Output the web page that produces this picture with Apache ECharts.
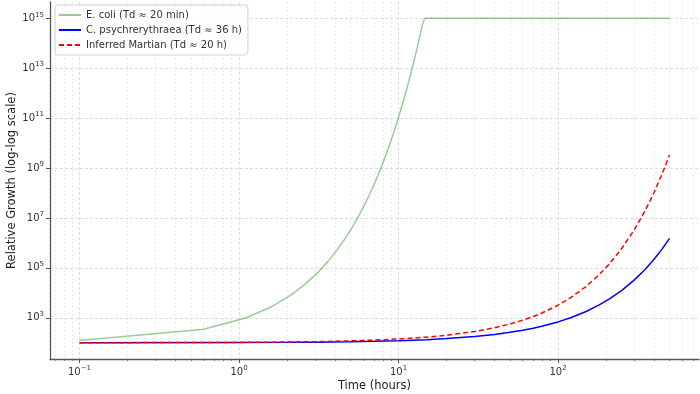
<!DOCTYPE html>
<html><head><meta charset="utf-8">
<script src="https://cdn.jsdelivr.net/npm/echarts@6/dist/echarts.min.js"></script>
<style>html,body{margin:0;padding:0;background:#fff}#c{width:700px;height:394px}</style>
</head><body><div id="c"></div>
<script>
// Time points (hours) and values
const ecoliT = [0.1,0.6,1.1,1.6,2.1,2.6,3.1,3.6,4.1,4.6,5.1,5.6,6.1,6.6,7.1,7.6,8.1,8.6,9.1,9.6,10.1,10.6,11.1,11.6,12.1,12.6,13.1,13.6,14.1,14.6,500];
const ecoliY = [123,348,985,2790,7880,22300,63000,178000,504000,1.43e6,4.03e6,1.14e7,3.23e7,9.13e7,2.58e8,7.30e8,2.07e9,5.84e9,1.65e10,4.67e10,1.32e11,3.74e11,1.06e12,2.99e12,8.46e12,2.39e13,6.77e13,1.91e14,5.41e14,1e15,1e15];
const slowT = [0.1,1,2,3,5,7,10,15,20,30,40,50,60,70,80,100,120,150,180,210,250,300,350,400,450,500];
const psychroY = [100.2,101.9,103.9,106,110.1,114.4,121.2,133.5,147.0,178.2,216.0,261.8,317.5,384.9,466.6,685.9,1008,1796,3200,5702,12320,32250,84460,221200,579300,1.517e6];
const martianY = [100.3,103.5,107.2,111,118.9,127.5,141.4,168.2,200,282.8,400,565.7,800,1131,1600,3200,6400,18100,51200,144800,579300,3.277e6,1.854e7,1.049e8,5.93e8,3.355e9];
// Tick values
const xMajor = [0.1,1,10,100];
const xMinor = [0.07,0.08,0.09,0.2,0.3,0.4,0.5,0.6,0.7,0.8,0.9,2,3,4,5,6,7,8,9,20,30,40,50,60,70,80,90,200,300,400,500,600,700];
const yMajor = [1e3,1e5,1e7,1e9,1e11,1e13,1e15];
const xMin = 0.0653, xMax = 765, yMin = 22.4, yMax = 4.47e15;

const FONT = 'DejaVu Sans';
function powLabel(v){
  const e = Math.log10(v); const r = Math.round(e);
  if (Math.abs(e - r) > 1e-6) return '';
  return '{b|10}{s|' + (r < 0 ? '\u2212' + (-r) : r) + '}';
}
const rich = {
  b:{fontFamily:FONT,fontSize:10,color:'#333'},
  s:{fontFamily:FONT,fontSize:7,color:'#333',verticalAlign:'bottom',padding:[0,0,7,0]}
};
const gridLine = (vals)=>({show:true,customValues:vals,lineStyle:{color:'#d4d4d4',width:0.8,type:[3,2]}});
const chart = echarts.init(document.getElementById('c'),null,{renderer:'canvas'});
chart.setOption({
  animation:false,
  textStyle:{fontFamily:FONT},
  grid:{left:50,right:1,top:2,bottom:35,outerBoundsMode:'none',containLabel:false},
  legend:{
    left:55,top:5,orient:'vertical',itemWidth:22,itemHeight:10,itemGap:5,
    backgroundColor:'rgba(255,255,255,0.85)',borderColor:'#d0d0d0',borderWidth:1,borderRadius:3,
    padding:[5,6,5,3],
    itemStyle:{opacity:0},
    textStyle:{fontFamily:FONT,fontSize:10,color:'#333'},
    data:['E. coli (Td \u2248 20 min)','C. psychrerythraea (Td \u2248 36 h)','Inferred Martian (Td \u2248 20 h)']
  },
  xAxis:[{
    type:'log',logBase:10,min:xMin,max:xMax,
    name:'Time (hours)',nameLocation:'middle',nameGap:21,nameMoveOverlap:false,
    nameTextStyle:{fontFamily:FONT,fontSize:11.5,color:'#222'},
    axisLine:{show:true,lineStyle:{color:'#555',width:1.3}},
    axisTick:{show:true,length:4,customValues:xMajor,lineStyle:{color:'#555'}},
    axisLabel:{formatter:powLabel,rich:rich,margin:6,customValues:xMajor},
    splitLine:gridLine(xMajor)
  },{
    type:'log',logBase:10,min:xMin,max:xMax,position:'bottom',
    axisLine:{show:false},
    axisTick:{show:true,length:2,customValues:xMinor,lineStyle:{color:'#666',width:0.8}},
    axisLabel:{show:false},
    splitLine:{show:true,customValues:xMinor,lineStyle:{color:'#e0e0e0',width:0.7,type:[2,2]}}
  }],
  yAxis:{
    type:'log',logBase:10,min:yMin,max:yMax,
    name:'Relative Growth (log-log scale)',nameLocation:'middle',nameGap:32,nameMoveOverlap:false,
    nameTextStyle:{fontFamily:FONT,fontSize:11.5,color:'#222'},
    axisLine:{show:true,lineStyle:{color:'#555',width:1.3}},
    axisTick:{show:true,length:4,customValues:yMajor,lineStyle:{color:'#555'}},
    axisLabel:{formatter:powLabel,rich:rich,margin:6,customValues:yMajor},
    splitLine:gridLine(yMajor)
  },
  series:[
    {name:'E. coli (Td \u2248 20 min)',type:'line',data:ecoliT.map((t,i)=>[t,ecoliY[i]]),
     showSymbol:false,symbol:'none',lineStyle:{color:'rgba(0,128,0,0.4)',width:1.5},itemStyle:{color:'rgba(0,128,0,0.4)'}},
    {name:'C. psychrerythraea (Td \u2248 36 h)',type:'line',data:slowT.map((t,i)=>[t,psychroY[i]]),
     showSymbol:false,symbol:'none',lineStyle:{color:'#0000ff',width:1.5},itemStyle:{color:'#0000ff'}},
    {name:'Inferred Martian (Td \u2248 20 h)',type:'line',data:slowT.map((t,i)=>[t,martianY[i]]),
     showSymbol:false,symbol:'none',lineStyle:{color:'#ff0000',width:1.5,type:[5,3]},itemStyle:{color:'#ff0000'}}
  ]
});
</script></body></html>
